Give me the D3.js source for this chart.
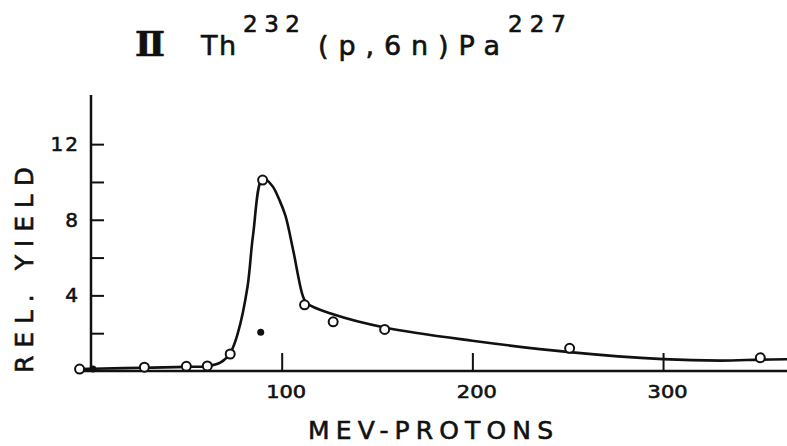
<!DOCTYPE html>
<html>
<head>
<meta charset="utf-8">
<script src="https://cdn.jsdelivr.net/npm/d3@7"></script>
<style>
  body { margin: 0; background: #fff; }
  svg text { font-family: "DejaVu Sans", sans-serif; fill: #111; stroke: #111; stroke-width: 0.6px; }
</style>
</head>
<body>
<div id="chart"></div>
<script>
// measured points (open circles)
var energy = [-6, 28, 50, 61, 73, 90, 112, 127, 154, 251, 351];
var yieldVals = [0.1, 0.2, 0.25, 0.27, 0.9, 10.1, 3.5, 2.6, 2.2, 1.2, 0.7];
// filled points
var dotEnergy = [1, 89];
var dotYield = [0.1, 2.05];
// hand drawn curve
var curveEnergy = [-6, 1, 28, 50, 61, 68, 73, 77, 82, 85, 90, 95, 99, 102, 106, 111, 113, 127, 154, 200, 251, 300, 330, 351, 366];
var curveYield = [0.1, 0.12, 0.17, 0.22, 0.25, 0.45, 0.95, 2.0, 4.4, 7.2, 10.2, 9.8, 9.0, 8.2, 6.4, 4.0, 3.6, 3.0, 2.3, 1.6, 1.0, 0.63, 0.55, 0.6, 0.62];
var xTicks = [100, 200, 300];
var yTicks = [2, 4, 6, 8, 10, 12];
var yLabels = [4, 8, 12];

var svgWidth = 787;
var svgHeight = 446;

var svg = d3.select("#chart")
  .append("svg")
  .attr("width", svgWidth)
  .attr("height", svgHeight);

var x = d3.scaleLinear().domain([0, 365]).range([91, 787]);
var y = d3.scaleLinear().domain([0, 14.6]).range([371, 95]);

// x axis
var xAxis = d3.axisBottom(x)
  .tickValues(xTicks)
  .tickSizeInner(-18)
  .tickSizeOuter(0)
  .tickPadding(14);

var gx = svg.append("g")
  .attr("transform", `translate(0, ${y(0)})`)
  .call(xAxis);
gx.select(".domain").remove();
gx.selectAll("line").attr("stroke", "#111").attr("stroke-width", 2);
gx.selectAll("text")
  .attr("dx", 4)
  .attr("textLength", 40)
  .attr("lengthAdjust", "spacingAndGlyphs")
  .style("font-size", "18px");

svg.append("line")
  .attr("x1", x(-8)).attr("x2", x(365))
  .attr("y1", y(0)).attr("y2", y(0))
  .attr("stroke", "#111")
  .attr("stroke-width", 2.5);

// y axis
var yAxis = d3.axisLeft(y)
  .tickValues(yTicks)
  .tickSizeInner(-13)
  .tickSizeOuter(0)
  .tickPadding(11)
  .tickFormat(d => yLabels.includes(d) ? d : "");

var gy = svg.append("g")
  .attr("transform", `translate(${x(0)}, 0)`)
  .call(yAxis);
gy.select(".domain").remove();
gy.selectAll("line").attr("stroke", "#111").attr("stroke-width", 2);
gy.selectAll("text")
  .style("font-size", "20px")
  .style("letter-spacing", "2px");

svg.append("line")
  .attr("x1", x(0)).attr("x2", x(0))
  .attr("y1", y(0)).attr("y2", y(14.6))
  .attr("stroke", "#111")
  .attr("stroke-width", 2.5);

// curve
var curveData = curveEnergy.map((e, i) => [e, curveYield[i]]);
var line = d3.line()
  .x(d => x(d[0]))
  .y(d => y(d[1]))
  .curve(d3.curveCatmullRom.alpha(0.5));

svg.append("path")
  .datum(curveData)
  .attr("d", line)
  .attr("fill", "none")
  .attr("stroke", "#111")
  .attr("stroke-width", 2.6);

// points
var pts = energy.map((e, i) => ({e: e, v: yieldVals[i]}));
svg.selectAll("circle.pt")
  .data(pts)
  .enter()
  .append("circle")
  .attr("class", "pt")
  .attr("cx", d => x(d.e))
  .attr("cy", d => y(d.v))
  .attr("r", 4.5)
  .attr("fill", "#fff")
  .attr("stroke", "#111")
  .attr("stroke-width", 2);

var dots = dotEnergy.map((e, i) => ({e: e, v: dotYield[i]}));
svg.selectAll("circle.dot")
  .data(dots)
  .enter()
  .append("circle")
  .attr("class", "dot")
  .attr("cx", d => x(d.e))
  .attr("cy", d => y(d.v))
  .attr("r", 3.5)
  .attr("fill", "#111");

// title, pieces placed where they sit in the figure
var titleParts = [
  {t: "Ⅱ", x: 135, y: 56, w: 30, size: 33, serif: true},
  {t: "Th", x: 201, y: 55, w: 35, size: 27},
  {t: "232", x: 243, y: 32, w: 57, size: 23},
  {t: "(p,6n)Pa", x: 318, y: 55, w: 182, size: 27},
  {t: "227", x: 508, y: 32, w: 58, size: 23}
];
svg.selectAll("text.title")
  .data(titleParts)
  .enter()
  .append("text")
  .attr("class", "title")
  .attr("x", d => d.x)
  .attr("y", d => d.y)
  .attr("textLength", d => d.w)
  .attr("lengthAdjust", d => d.serif ? "spacingAndGlyphs" : "spacing")
  .style("font-size", d => d.size + "px")
  .style("font-family", d => d.serif ? "DejaVu Serif" : null)
  .style("font-weight", d => d.serif ? "bold" : null)
  .text(d => d.t);

// axis labels
svg.append("text")
  .attr("x", 308)
  .attr("y", 439)
  .attr("textLength", 245)
  .attr("lengthAdjust", "spacing")
  .style("font-size", "25px")
  .text("MEV-PROTONS");

svg.append("text")
  .attr("transform", "translate(33, 373) rotate(-90)")
  .attr("textLength", 206)
  .attr("lengthAdjust", "spacing")
  .style("font-size", "25px")
  .text("REL.  YIELD");
</script>
</body>
</html>
